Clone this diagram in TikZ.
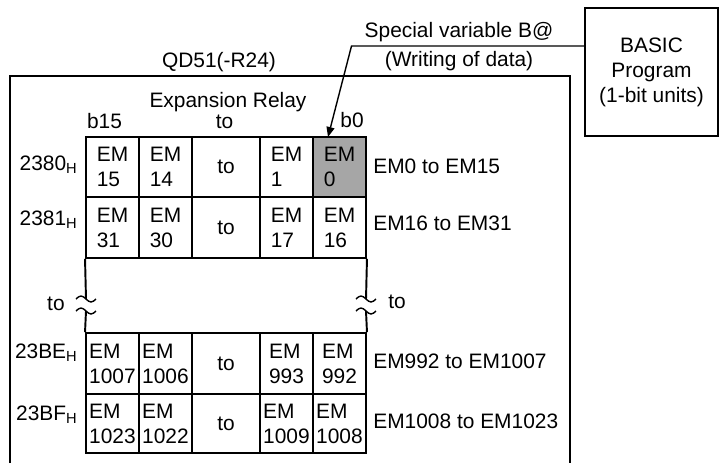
\documentclass[tikz,border=0pt]{standalone}
\usepackage{fontspec}
\setmainfont{Liberation Sans}
\usetikzlibrary{arrows.meta}
\definecolor{bitgray}{RGB}{166,166,166}

\begin{document}
\begin{tikzpicture}[
    every node/.style={font=\fontsize{11.9}{14.2}\selectfont},
    cell/.style={draw, line width=1.1pt, minimum width=1.06cm, align=left, inner sep=0pt},
    wide/.style={cell, minimum width=1.36cm},
    lbl/.style={inner sep=0pt}
]
\useasboundingbox (0,0) rectangle (14.38,-9.26);

% module frame
\draw[line width=0.8pt] (0.2,-9.26) -- (0.2,-1.52) -- (11.4,-1.52) -- (11.4,-9.26);

\node(title)[lbl, anchor=base] at (4.38,-1.34) {QD51(-R24)};
\node(relay)[lbl, anchor=base] at (4.56,-2.14) {Expansion Relay};
\node(b15)[lbl, anchor=base] at (2.09,-2.56) {b15};
\node(bto)[lbl, anchor=base] at (4.49,-2.56) {to};
\node(b0)[lbl, anchor=base] at (7.04,-2.54) {b0};

% first word
\node(em15)[cell, minimum height=1.2cm] at (2.25,-3.34) {EM\\15};
\node(em14)[cell, minimum height=1.2cm] at (3.31,-3.34) {EM\\14};
\node(to1)[wide, minimum height=1.2cm] at (4.52,-3.34) {to};
\node(em1)[cell, minimum height=1.2cm] at (5.73,-3.34) {EM\\1};
\node(em0)[cell, minimum height=1.2cm, fill=bitgray] at (6.79,-3.34) {EM\\0};

% second word
\node(em31)[cell, minimum height=1.22cm] at (2.25,-4.55) {EM\\31};
\node(em30)[cell, minimum height=1.22cm] at (3.31,-4.55) {EM\\30};
\node(to2)[wide, minimum height=1.22cm] at (4.52,-4.55) {to};
\node(em17)[cell, minimum height=1.22cm] at (5.73,-4.55) {EM\\17};
\node(em16)[cell, minimum height=1.22cm] at (6.79,-4.55) {EM\\16};

% last but one word
\node(em1007)[cell, minimum height=1.22cm] at (2.25,-7.27) {EM\\1007};
\node(em1006)[cell, minimum height=1.22cm] at (3.31,-7.27) {EM\\1006};
\node(to3)[wide, minimum height=1.22cm] at (4.52,-7.27) {to};
\node(em993)[cell, minimum height=1.22cm] at (5.73,-7.27) {EM\\993};
\node(em992)[cell, minimum height=1.22cm] at (6.79,-7.27) {EM\\992};

% last word
\node(em1023)[cell, minimum height=1.18cm] at (2.25,-8.47) {EM\\1023};
\node(em1022)[cell, minimum height=1.18cm] at (3.31,-8.47) {EM\\1022};
\node(to4)[wide, minimum height=1.18cm] at (4.52,-8.47) {to};
\node(em1009)[cell, minimum height=1.18cm] at (5.73,-8.47) {EM\\1009};
\node(em1008)[cell, minimum height=1.18cm] at (6.79,-8.47) {EM\\1008};

% addresses
\node(ad0)[lbl, anchor=base east] at (1.56,-3.4) {2380\textsubscript{H}};
\node(ad1)[lbl, anchor=base east] at (1.56,-4.5) {2381\textsubscript{H}};
\node(ad2)[lbl, anchor=base east] at (1.56,-7.16) {23BE\textsubscript{H}};
\node(ad3)[lbl, anchor=base east] at (1.56,-8.4) {23BF\textsubscript{H}};

\node(rng0)[lbl, anchor=base west] at (7.46,-3.46) {EM0 to EM15};
\node(rng1)[lbl, anchor=base west] at (7.46,-4.6) {EM16 to EM31};
\node(rng2)[lbl, anchor=base west] at (7.46,-7.36) {EM992 to EM1007};
\node(rng3)[lbl, anchor=base west] at (7.46,-8.56) {EM1008 to EM1023};

% break in the table
\draw[line width=1.1pt] (em31.south west) -- (1.72,-5.98);
\draw[line width=1.1pt] (1.72,-6.22) -- (em1007.north west);
\draw[line width=1.1pt] (em16.south east) -- (7.32,-5.98);
\draw[line width=1.1pt] (7.32,-6.22) -- (em992.north east);
\draw[line width=0.8pt] (1.52,-5.98) sin (1.62,-5.92) cos (1.72,-5.98) sin (1.82,-6.04) cos (1.92,-5.98);
\draw[line width=0.8pt] (1.52,-6.22) sin (1.62,-6.16) cos (1.72,-6.22) sin (1.82,-6.28) cos (1.92,-6.22);
\draw[line width=0.8pt] (7.12,-5.98) sin (7.22,-5.92) cos (7.32,-5.98) sin (7.42,-6.04) cos (7.52,-5.98);
\draw[line width=0.8pt] (7.12,-6.22) sin (7.22,-6.16) cos (7.32,-6.22) sin (7.42,-6.28) cos (7.52,-6.22);
\node(tol)[lbl, anchor=base east] at (1.3,-6.2) {to};
\node(tor)[lbl, anchor=base west] at (7.76,-6.16) {to};

% program side
\node(basic)[draw, line width=0.8pt, minimum width=2.66cm, minimum height=2.56cm, align=center] at (13.03,-1.44) {BASIC\\Program\\(1-bit units)};
\node(var)[lbl, anchor=base] at (9.18,-0.74) {Special variable B@};
\node(write)[lbl, anchor=base] at (9.18,-1.32) {(Writing of data)};

\coordinate (bend) at (7.03,-0.92);
\coordinate (tip) at (6.56,-2.74);
\draw[line width=0.8pt, -{Triangle[length=2mm, width=1.6mm]}] (basic.west |- bend) -- (bend) -- (tip);
\end{tikzpicture}
\end{document}
